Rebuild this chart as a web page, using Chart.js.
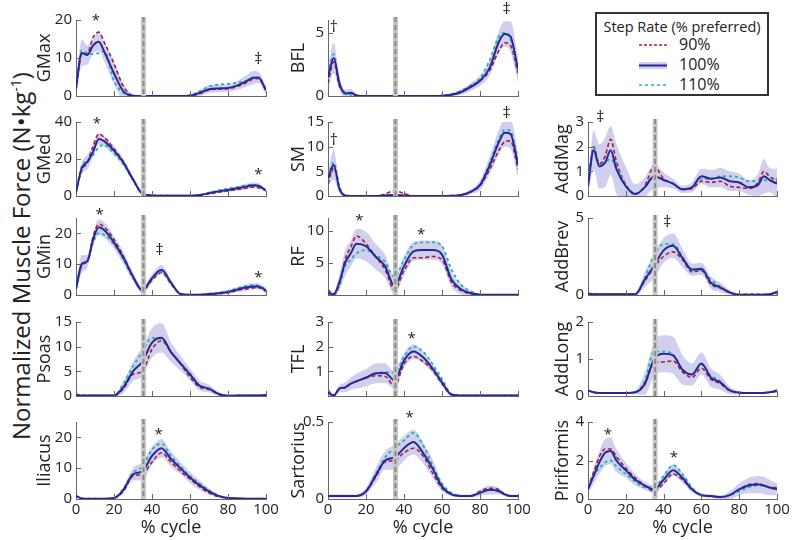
<!DOCTYPE html>
<html>
<head>
<meta charset="utf-8">
<script src="https://cdn.jsdelivr.net/npm/chart.js@4.4.1/dist/chart.umd.min.js"></script>
<style>
  body { margin: 0; background: #fff; width: 800px; height: 540px; position: relative; overflow: hidden; font-family: "Open Sans", sans-serif; color: #222; }
  canvas { position: absolute; }
  #ylab { position: absolute; left: 20px; top: 256px; transform: translate(-50%, -50%) rotate(-90deg); white-space: nowrap; font-size: 24px; }
  #ylab sup { font-size: 14px; }
  #legend { position: absolute; left: 595px; top: 12px; width: 174px; height: 84px; box-sizing: border-box; border: 2px solid #333; }
  #legend .t { position: absolute; left: 0; width: 100%; top: 3px; text-align: center; font-size: 14.5px; }
  #legend .e { position: absolute; left: 82px; font-size: 16px; line-height: 20px; }
  #legend svg { position: absolute; left: 0; top: 0; }
</style>
</head>
<body>
<div id="ylab">Normalized Muscle Force (N•kg<sup>-1</sup>)</div>
<div id="legend">
  <div class="t">Step Rate (% preferred)</div>
  <svg width="170" height="80">
    <line x1="42" y1="31" x2="70" y2="31" stroke="#a4203c" stroke-width="1.6" stroke-dasharray="3,2"/>
    <rect x="42" y="48" width="28" height="7" fill="rgba(120,120,205,0.35)"/>
    <line x1="42" y1="51.5" x2="70" y2="51.5" stroke="#27279a" stroke-width="2"/>
    <line x1="42" y1="71" x2="70" y2="71" stroke="#1fb2a6" stroke-width="1.6" stroke-dasharray="3,3"/>
  </svg>
  <div class="e" style="top:20px">90%</div>
  <div class="e" style="top:40px">100%</div>
  <div class="e" style="top:60px">110%</div>
</div>
<script>
// % of gait cycle at which every curve is sampled
const cycle = [0, 3, 6, 9, 12, 15, 20, 25, 30, 35, 40, 45, 50, 55, 60, 65, 70, 75, 80, 85, 90, 93, 96, 100];
const toeOff = 35.5;

const gmax90  = [1.5, 11, 11.2, 15.5, 16.8, 14, 8.5, 2.5, 0.1, 0, 0, 0, 0, 0, 0.05, 0.6, 1.6, 1.8, 1.9, 2.5, 3.6, 4.4, 4.6, 1.4];
const gmax100 = [2, 11.3, 10.8, 13.3, 14.3, 11.5, 6, 1.2, 0.05, 0, 0, 0, 0, 0, 0.1, 0.8, 1.8, 2, 2.1, 2.8, 4, 4.8, 4.9, 1.5];
const gmax110 = [2, 12, 11.3, 11, 11.3, 11.8, 4, 0.8, 0, 0, 0, 0, 0, 0, 0.2, 1.2, 2.5, 3, 3.2, 3.5, 4.1, 4.6, 4.8, 2];
const gmaxSd  = [1, 3.5, 2.5, 2, 2.5, 2.5, 3, 2, 0.3, 0, 0, 0, 0, 0, 0.3, 0.8, 1, 1, 1, 1.2, 1.5, 1.8, 1.5, 1];

const bfl90  = [1.0, 2.7, 0.8, 0.3, 0.2, 0.05, 0, 0, 0, 0.05, 0, 0, 0, 0, 0.02, 0.15, 0.4, 0.8, 1.2, 2.0, 3.6, 4.2, 4.0, 1.8];
const bfl100 = [1.5, 3.0, 1.0, 0.2, 0.25, 0.05, 0, 0, 0, 0, 0, 0, 0, 0, 0.02, 0.1, 0.3, 0.7, 1.2, 2.2, 4.3, 4.9, 4.7, 2.1];
const bfl110 = [1.8, 3.3, 1.0, 0.2, 0.1, 0, 0, 0, 0, 0, 0, 0, 0, 0, 0.02, 0.1, 0.4, 0.8, 1.4, 2.8, 4.7, 5.0, 4.5, 2.0];
const bflSd  = [0.8, 1.2, 0.6, 0.3, 0.3, 0.1, 0, 0, 0, 0, 0, 0, 0, 0, 0.05, 0.1, 0.2, 0.3, 0.4, 0.6, 0.9, 1.0, 1.2, 1.0];

const gmed90  = [2, 14, 18, 27, 33.5, 31.5, 25.5, 18.5, 9, 1.2, 0.3, 0.2, 0.2, 0.2, 0.2, 0.4, 1.2, 2, 2.8, 3.5, 4.3, 4.8, 4.5, 3];
const gmed100 = [2, 15, 18.5, 24, 30.8, 29.5, 24.5, 18, 9, 1.2, 0.3, 0.2, 0.2, 0.2, 0.2, 0.5, 1.5, 2.5, 3.3, 4.2, 5.2, 5.8, 5.5, 3];
const gmed110 = [2, 16, 19, 22, 26.5, 27.5, 23, 17, 8.5, 1.2, 0.3, 0.2, 0.2, 0.2, 0.2, 0.6, 1.8, 3, 4, 4.8, 5.8, 6, 5.5, 3];
const gmedSd  = [1, 3, 4, 3, 3, 3, 2.5, 2, 1.5, 0.5, 0.2, 0.1, 0.1, 0.1, 0.1, 0.3, 0.8, 1, 1, 1.2, 1.5, 1.5, 1.5, 1];

const sm90  = [2.5, 5.8, 1.5, 0.05, 0, 0, 0, 0, 0.4, 1.1, 0.5, 0, 0, 0, 0, 0.05, 0.2, 0.8, 2.1, 5.3, 9.3, 11, 11.2, 5.5];
const sm100 = [3.5, 6.3, 1.5, 0.1, 0, 0, 0, 0, 0.1, 0.2, 0.1, 0, 0, 0, 0, 0.05, 0.2, 0.85, 2.2, 6.1, 11, 12.8, 12.6, 6.4];
const sm110 = [4, 6.8, 2, 0.1, 0, 0, 0, 0, 0.1, 0.2, 0.1, 0, 0, 0, 0, 0.05, 0.2, 0.9, 2.4, 6.6, 11.6, 13.4, 13.2, 7];
const smSd  = [1.5, 3, 1, 0.1, 0, 0, 0, 0, 0.1, 0.2, 0.1, 0, 0, 0, 0, 0.05, 0.2, 0.5, 1, 1.8, 2.5, 2.8, 3, 2.5];

const addmag90  = [0.4, 2.0, 1.3, 1.6, 2.3, 1.4, 0.45, 0.07, 0.4, 1.2, 0.7, 0.5, 0.27, 0.3, 0.6, 0.55, 0.6, 0.4, 0.35, 0.3, 0.55, 1.0, 0.8, 0.6];
const addmag100 = [0.4, 1.85, 1.2, 1.35, 1.85, 1.1, 0.4, 0.08, 0.35, 0.8, 0.65, 0.5, 0.27, 0.35, 0.8, 0.7, 0.75, 0.6, 0.55, 0.35, 0.45, 0.8, 0.65, 0.5];
const addmag110 = [0.5, 2.0, 1.25, 1.35, 1.5, 1.2, 0.45, 0.1, 0.35, 0.8, 0.65, 0.5, 0.27, 0.35, 0.7, 0.7, 0.8, 0.8, 0.75, 0.6, 0.6, 0.65, 0.6, 0.7];
const addmagSd  = [0.3, 0.8, 0.9, 1.0, 1.0, 1.0, 0.8, 0.4, 0.4, 0.5, 0.3, 0.2, 0.15, 0.2, 0.3, 0.35, 0.4, 0.4, 0.35, 0.3, 0.45, 0.7, 0.5, 0.6];

const gmin90  = [2, 9.5, 11, 19, 23, 22, 18, 12.5, 6, 1.3, 4.8, 7.3, 3.6, 0.3, 0.05, 0.1, 0.2, 0.4, 0.8, 1.5, 2, 2.3, 2.4, 1.2];
const gmin100 = [2, 10, 11, 18, 22, 21, 17, 12, 6, 1.5, 5.5, 8.2, 4, 0.3, 0.05, 0.1, 0.3, 0.6, 1, 1.8, 2.5, 2.8, 2.8, 1.5];
const gmin110 = [2, 10, 11, 17, 20, 19.5, 16.5, 11.5, 5.5, 1.5, 5.2, 7.6, 3.8, 0.3, 0.05, 0.1, 0.4, 0.7, 1.2, 2.2, 3, 3.2, 3, 1.8];
const gminSd  = [1, 3, 2, 2, 2.5, 2.5, 2, 2, 1.5, 1, 1.3, 1.5, 1, 0.3, 0.1, 0.1, 0.3, 0.5, 0.7, 0.8, 1, 1, 1, 0.8];

const rf90  = [0.8, 0.1, 1.5, 5.5, 7.5, 9.2, 8, 6, 4, 0.8, 3.8, 5.8, 5.8, 6, 5.5, 2, 0.7, 0.2, 0.05, 0.02, 0.02, 0.02, 0.02, 0.02];
const rf100 = [0.3, 0.1, 2, 5, 6.5, 8, 7.6, 6, 4.5, 1.4, 4.5, 6.8, 7, 7, 6.3, 2.4, 0.9, 0.3, 0.05, 0.02, 0.02, 0.02, 0.02, 0.02];
const rf110 = [0.3, 0.1, 1.5, 4.5, 5.5, 6.5, 7, 6.2, 5.2, 2.8, 5.5, 7.8, 8.2, 8.2, 7.6, 4, 1.6, 0.6, 0.1, 0.02, 0.02, 0.02, 0.02, 0.02];
const rfSd  = [0.5, 0.4, 1.2, 2, 2, 2.3, 2.3, 2, 1.8, 1.3, 1.5, 1.5, 1.5, 1.5, 1.5, 1.2, 0.8, 0.4, 0.1, 0.02, 0.02, 0.02, 0.02, 0.02];

const addbrev90  = [0.1, 0.05, 0.05, 0.05, 0.05, 0.05, 0.05, 0.05, 0.9, 1.8, 2.5, 2.8, 2.3, 1.5, 1.6, 0.7, 0.45, 0.15, 0.03, 0.05, 0.05, 0.05, 0.05, 0.1];
const addbrev100 = [0.1, 0.05, 0.05, 0.05, 0.05, 0.05, 0.05, 0.05, 1.0, 1.9, 2.9, 3.2, 2.4, 1.65, 1.7, 0.8, 0.5, 0.17, 0.02, 0.02, 0.02, 0.02, 0.05, 0.2];
const addbrev110 = [0.1, 0.05, 0.05, 0.05, 0.05, 0.05, 0.05, 0.05, 1.1, 2.6, 3.3, 3.3, 2.5, 1.6, 1.6, 1.0, 0.55, 0.15, 0.02, 0.02, 0.02, 0.02, 0.05, 0.1];
const addbrevSd  = [0.05, 0.02, 0.02, 0.02, 0.02, 0.02, 0.02, 0.1, 0.5, 0.8, 0.8, 0.8, 0.6, 0.4, 0.4, 0.4, 0.3, 0.15, 0.03, 0.02, 0.02, 0.02, 0.02, 0.05];

const psoas90  = [0.3, 0.1, 0.1, 0.1, 0.1, 0.1, 0.1, 1.5, 4.4, 5, 9.5, 11.2, 8.9, 6.5, 3.8, 1.8, 1.3, 0.4, 0.05, 0.1, 0.1, 0.1, 0.1, 0.2];
const psoas100 = [0.3, 0.1, 0.1, 0.1, 0.1, 0.1, 0.1, 1.8, 5, 7, 10.8, 11.8, 8.9, 6.6, 4.4, 2.1, 1.5, 0.4, 0.05, 0.1, 0.1, 0.1, 0.1, 0.2];
const psoas110 = [0.3, 0.1, 0.1, 0.1, 0.1, 0.1, 0.1, 2.5, 6, 9, 11.8, 11.5, 8.9, 6.6, 4.6, 2.2, 1.5, 0.4, 0.05, 0.1, 0.1, 0.1, 0.1, 0.2];
const psoasSd  = [0.1, 0.05, 0.05, 0.05, 0.05, 0.05, 0.2, 1.2, 2, 3, 3, 3, 2, 1.5, 1.2, 1, 0.8, 0.4, 0.2, 0.1, 0.1, 0.1, 0.1, 0.1];

const tfl90  = [0.25, 0.02, 0.3, 0.33, 0.5, 0.6, 0.74, 0.82, 0.8, 0.4, 1.3, 1.6, 1.4, 1.05, 0.5, 0.05, 0.02, 0.02, 0.02, 0.02, 0.02, 0.02, 0.02, 0.02];
const tfl100 = [0.15, 0.02, 0.3, 0.35, 0.5, 0.6, 0.74, 0.92, 0.93, 0.64, 1.44, 1.8, 1.57, 1.12, 0.55, 0.06, 0.02, 0.02, 0.02, 0.02, 0.02, 0.02, 0.02, 0.02];
const tfl110 = [0.2, 0.02, 0.3, 0.35, 0.5, 0.6, 0.76, 0.9, 0.97, 0.95, 1.6, 2.0, 1.8, 1.3, 0.7, 0.08, 0.02, 0.02, 0.02, 0.02, 0.02, 0.02, 0.02, 0.02];
const tflSd  = [0.1, 0.05, 0.15, 0.2, 0.25, 0.3, 0.35, 0.4, 0.4, 0.35, 0.3, 0.3, 0.25, 0.2, 0.15, 0.05, 0.02, 0.02, 0.02, 0.02, 0.02, 0.02, 0.02, 0.02];

const addlong90  = [0.15, 0.1, 0.08, 0.08, 0.08, 0.08, 0.08, 0.1, 0.3, 0.9, 0.92, 0.95, 0.65, 0.5, 0.75, 0.45, 0.33, 0.14, 0.09, 0.08, 0.08, 0.1, 0.1, 0.12];
const addlong100 = [0.15, 0.1, 0.08, 0.08, 0.08, 0.08, 0.08, 0.1, 0.33, 1.0, 1.14, 1.1, 0.71, 0.58, 0.88, 0.5, 0.37, 0.15, 0.09, 0.08, 0.08, 0.08, 0.1, 0.15];
const addlong110 = [0.15, 0.1, 0.08, 0.08, 0.08, 0.08, 0.08, 0.1, 0.4, 1.2, 1.2, 1.12, 0.72, 0.58, 0.85, 0.55, 0.4, 0.15, 0.09, 0.08, 0.08, 0.08, 0.1, 0.12];
const addlongSd  = [0.02, 0.02, 0.02, 0.02, 0.02, 0.02, 0.02, 0.05, 0.3, 0.45, 0.5, 0.5, 0.4, 0.3, 0.3, 0.25, 0.2, 0.1, 0.05, 0.02, 0.02, 0.02, 0.02, 0.05];

const iliacus90  = [1, 0.2, 0.1, 0.1, 0.1, 0.1, 0.3, 2.5, 7.5, 8, 12, 15, 12, 9, 6.5, 4, 2, 0.8, 0.3, 0.2, 0.1, 0.1, 0.1, 0.1];
const iliacus100 = [1, 0.2, 0.1, 0.1, 0.1, 0.1, 0.3, 3, 8, 9, 14, 16.5, 13, 10, 7, 4.5, 2.5, 1, 0.3, 0.2, 0.1, 0.1, 0.1, 0.1];
const iliacus110 = [1, 0.2, 0.1, 0.1, 0.1, 0.1, 0.3, 3.5, 8.5, 10.5, 16, 18, 14, 10.5, 7.5, 5, 2.8, 1, 0.3, 0.2, 0.1, 0.1, 0.1, 0.1];
const iliacusSd  = [0.3, 0.1, 0.05, 0.05, 0.05, 0.05, 0.2, 1, 2, 3, 3, 3, 2.5, 2, 1.8, 1.5, 1, 0.5, 0.2, 0.1, 0.1, 0.1, 0.1, 0.1];

const sart90  = [0.02, 0.02, 0.02, 0.02, 0.02, 0.02, 0.05, 0.14, 0.24, 0.25, 0.3, 0.33, 0.28, 0.17, 0.07, 0.03, 0.02, 0.02, 0.05, 0.07, 0.06, 0.03, 0.02, 0.02];
const sart100 = [0.02, 0.02, 0.02, 0.02, 0.02, 0.02, 0.05, 0.15, 0.25, 0.27, 0.33, 0.37, 0.3, 0.2, 0.08, 0.03, 0.02, 0.02, 0.04, 0.06, 0.05, 0.03, 0.02, 0.02];
const sart110 = [0.02, 0.02, 0.02, 0.02, 0.02, 0.02, 0.05, 0.16, 0.27, 0.33, 0.38, 0.43, 0.35, 0.22, 0.1, 0.04, 0.02, 0.02, 0.04, 0.06, 0.05, 0.03, 0.02, 0.02];
const sartSd  = [0.01, 0.01, 0.01, 0.01, 0.01, 0.01, 0.02, 0.05, 0.06, 0.08, 0.08, 0.08, 0.07, 0.06, 0.03, 0.01, 0.01, 0.01, 0.02, 0.03, 0.02, 0.01, 0.01, 0.01];

const piri90  = [0.6, 1.4, 2.2, 2.6, 2.6, 2.2, 1.6, 1.1, 0.7, 0.4, 0.8, 1.3, 1.0, 0.5, 0.2, 0.15, 0.1, 0.2, 0.5, 0.75, 0.8, 0.7, 0.6, 0.6];
const piri100 = [0.5, 1.2, 1.9, 2.4, 2.5, 2.0, 1.5, 1.0, 0.7, 0.5, 1.0, 1.5, 1.1, 0.5, 0.2, 0.15, 0.1, 0.2, 0.5, 0.7, 0.75, 0.7, 0.6, 0.5];
const piri110 = [0.6, 1.2, 1.6, 1.9, 2.0, 1.7, 1.3, 0.9, 0.6, 0.6, 1.2, 1.75, 1.3, 0.6, 0.2, 0.15, 0.1, 0.2, 0.4, 0.6, 0.7, 0.7, 0.6, 0.5];
const piriSd  = [0.2, 0.4, 0.6, 0.7, 0.7, 0.6, 0.4, 0.3, 0.2, 0.2, 0.25, 0.3, 0.25, 0.15, 0.1, 0.1, 0.1, 0.2, 0.3, 0.4, 0.45, 0.45, 0.4, 0.3];

// layout of the panel grid (plot area edges, px)
const colLeft = [76, 328, 588];
const colWidth = [190, 190, 189];
const rowTop = [20, 122, 218, 322, 422];
const rowBottom = [99, 199, 298, 399, 499];
const labelGap = [31, 29, 25];

const panels = [
  { name: 'GMax', col: 0, row: 0, ymax: 20, ticks: [0, 10, 20], d: [gmax90, gmax100, gmax110, gmaxSd], notes: [[10.5, 20.5, '*'], [96, 9.5, '‡']] },
  { name: 'BFL', col: 1, row: 0, ymax: 6, ticks: [0, 5], d: [bfl90, bfl100, bfl110, bflSd], notes: [[3, 5.4, '†'], [94, 6.8, '‡']] },
  { name: 'GMed', col: 0, row: 1, ymax: 40, ticks: [0, 20, 40], d: [gmed90, gmed100, gmed110, gmedSd], notes: [[11, 40.5, '*'], [96, 13, '*']] },
  { name: 'SM', col: 1, row: 1, ymax: 15, ticks: [0, 5, 10, 15], d: [sm90, sm100, sm110, smSd], notes: [[3, 11.3, '†'], [94, 16.8, '‡']] },
  { name: 'AddMag', col: 2, row: 1, ymax: 3, ticks: [0, 1, 2, 3], d: [addmag90, addmag100, addmag110, addmagSd], notes: [[6.5, 3.2, '‡']] },
  { name: 'GMin', col: 0, row: 2, ymax: 25, ticks: [0, 10, 20], d: [gmin90, gmin100, gmin110, gminSd], notes: [[12.5, 27, '*'], [44, 14.5, '‡'], [96, 6.5, '*']] },
  { name: 'RF', col: 1, row: 2, ymax: 12, ticks: [5, 10], d: [rf90, rf100, rf110, rfSd], notes: [[16.5, 12, '*'], [49, 9.8, '*']] },
  { name: 'AddBrev', col: 2, row: 2, ymax: 5, ticks: [0, 5], d: [addbrev90, addbrev100, addbrev110, addbrevSd], notes: [[42, 4.7, '‡']] },
  { name: 'Psoas', col: 0, row: 3, ymax: 15, ticks: [0, 5, 10, 15], d: [psoas90, psoas100, psoas110, psoasSd], notes: [] },
  { name: 'TFL', col: 1, row: 3, ymax: 3, ticks: [1, 2, 3], d: [tfl90, tfl100, tfl110, tflSd], notes: [[44, 2.45, '*']] },
  { name: 'AddLong', col: 2, row: 3, ymax: 2, ticks: [0, 1, 2], d: [addlong90, addlong100, addlong110, addlongSd], notes: [] },
  { name: 'Iliacus', col: 0, row: 4, ymax: 25, ticks: [0, 10, 20], d: [iliacus90, iliacus100, iliacus110, iliacusSd], notes: [[43.5, 22, '*']] },
  { name: 'Sartorius', col: 1, row: 4, ymax: 0.5, ticks: [0, 0.5], d: [sart90, sart100, sart110, sartSd], notes: [[43, 0.55, '*']] },
  { name: 'Piriformis', col: 2, row: 4, ymax: 4, ticks: [0, 2, 4], d: [piri90, piri100, piri110, piriSd], notes: [[10.5, 3.5, '*'], [45.5, 2.3, '*']] }
];

const axisColor = '#666';
const textColor = '#222';
const bandColor = 'rgba(120,120,205,0.35)';
const fontFamily = '"Open Sans", sans-serif';

function pts(arr) {
  return cycle.map((x, i) => ({ x: x, y: arr[i] }));
}

// toe-off bar, inward ticks, muscle name and significance marks
const panelDecor = {
  id: 'panelDecor',
  afterDatasetsDraw(chart) {
    const { ctx, chartArea, scales } = chart;
    const x = scales.x.getPixelForValue(toeOff);
    ctx.save();
    ctx.fillStyle = '#c6c6c6';
    ctx.fillRect(x - 2.5, chartArea.top - 3, 5, chartArea.bottom - chartArea.top + 3);
    ctx.strokeStyle = '#8a8a8a';
    ctx.lineWidth = 2;
    ctx.setLineDash([5, 3]);
    ctx.beginPath();
    ctx.moveTo(x, chartArea.top - 3);
    ctx.lineTo(x, chartArea.bottom);
    ctx.stroke();
    ctx.restore();
  },
  afterDraw(chart) {
    const { ctx, chartArea, scales } = chart;
    const p = chart.config.options.plugins.panelDecor.panel;
    ctx.save();
    ctx.strokeStyle = axisColor;
    ctx.lineWidth = 1;
    ctx.beginPath();
    for (let v = 20; v <= 100; v += 20) {
      const x = Math.round(scales.x.getPixelForValue(v)) + 0.5;
      ctx.moveTo(x, chartArea.bottom);
      ctx.lineTo(x, chartArea.bottom - 5);
    }
    p.ticks.forEach(v => {
      const y = Math.round(scales.y.getPixelForValue(v)) + 0.5;
      ctx.moveTo(chartArea.left, y);
      ctx.lineTo(chartArea.left + 5, y);
    });
    ctx.stroke();

    ctx.fillStyle = textColor;
    ctx.font = '18px ' + fontFamily;
    ctx.textAlign = 'center';
    ctx.textBaseline = 'middle';
    ctx.save();
    ctx.translate(chartArea.left - labelGap[p.col], (chartArea.top + chartArea.bottom) / 2);
    ctx.rotate(-Math.PI / 2);
    ctx.fillText(p.name, 0, 0);
    ctx.restore();

    p.notes.forEach(n => {
      const x = scales.x.getPixelForValue(n[0]);
      const y = scales.y.getPixelForValue(n[1]);
      if (n[2] === '*') {
        ctx.font = '15px ' + fontFamily;
        ctx.fillText('*', x, y + 3);
      } else {
        ctx.font = '16px ' + fontFamily;
        ctx.fillText(n[2], x, y);
      }
    });
    ctx.restore();
  }
};

panels.forEach(p => {
  const bottomRow = p.row === 4;
  const L = 70, T = 22, R = 20, B = bottomRow ? 40 : 10;
  const w = colWidth[p.col], h = rowBottom[p.row] - rowTop[p.row];
  const canvas = document.createElement('canvas');
  canvas.width = L + w + R;
  canvas.height = T + h + B;
  canvas.style.left = (colLeft[p.col] - L) + 'px';
  canvas.style.top = (rowTop[p.row] - T) + 'px';
  document.body.appendChild(canvas);

  const [s90, s100, s110, sd] = p.d;
  const line = {
    pointRadius: 0, fill: false, cubicInterpolationMode: 'monotone'
  };

  new Chart(canvas, {
    type: 'line',
    data: {
      datasets: [
        Object.assign({}, line, { data: pts(s100.map((v, i) => v + sd[i])), borderWidth: 0, order: 10 }),
        Object.assign({}, line, { data: pts(s100.map((v, i) => v - sd[i])), borderWidth: 0, fill: '-1', backgroundColor: bandColor, order: 9 }),
        Object.assign({}, line, { data: pts(s90), borderColor: '#a4203c', borderWidth: 1.6, borderDash: [4, 2.5], order: 3 }),
        Object.assign({}, line, { data: pts(s110), borderColor: '#1fb2a6', borderWidth: 1.8, borderDash: [3, 3], order: 2 }),
        Object.assign({}, line, { data: pts(s100), borderColor: '#27279a', borderWidth: 2, order: 1 })
      ]
    },
    options: {
      responsive: false,
      animation: false,
      devicePixelRatio: 1,
      layout: { padding: { top: T, right: R, left: 0, bottom: 0 } },
      plugins: {
        legend: { display: false },
        tooltip: { enabled: false },
        panelDecor: { panel: p }
      },
      scales: {
        x: {
          type: 'linear', min: 0, max: 100,
          grid: { display: false, drawTicks: false },
          border: { color: axisColor },
          ticks: { display: bottomRow, stepSize: 20, autoSkip: false, padding: 2, color: textColor, font: { family: fontFamily, size: 15 } },
          title: { display: bottomRow, text: '% cycle', color: textColor, padding: { top: -2, bottom: 0 }, font: { family: fontFamily, size: 18 } },
          afterFit(s) { s.height = B; }
        },
        y: {
          type: 'linear', min: 0, max: p.ymax,
          grid: { display: false, drawTicks: false },
          border: { color: axisColor },
          ticks: { padding: 4, color: textColor, font: { family: fontFamily, size: 15 } },
          afterBuildTicks(s) { s.ticks = p.ticks.map(v => ({ value: v })); },
          afterFit(s) { s.width = L; }
        }
      }
    },
    plugins: [panelDecor]
  });
});
</script>
</body>
</html>
